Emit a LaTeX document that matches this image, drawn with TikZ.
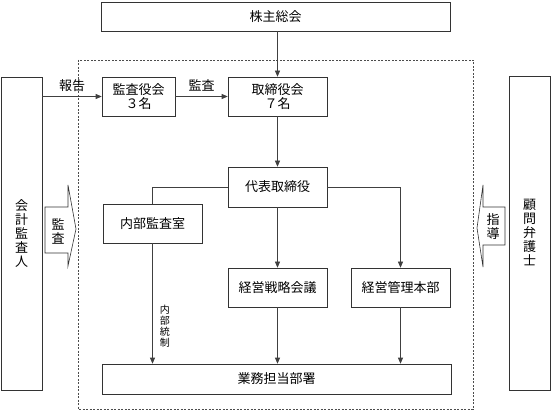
\documentclass[tikz,border=0pt]{standalone}
\usepackage{fontspec}
\setmainfont{Noto Sans CJK JP}
\usetikzlibrary{positioning,arrows.meta,calc}
\tikzstyle{box} = [draw=black!80,line width=0.6pt,inner sep=0pt,align=center,font=\fontsize{13}{14}\selectfont]
\tikzstyle{line} = [draw=black!75,line width=0.6pt]
\tikzstyle{line>} = [line,-{Triangle[length=6pt,width=5pt]}]
\tikzstyle{frame} = [draw=black!70,line width=0.6pt,dash pattern=on 2pt off 1.5pt]
\tikzstyle{fat arrow} = [draw=black!80,line width=0.6pt,fill=white]
\tikzstyle{vert} = [align=center,inner sep=0pt,font=\fontsize{13}{14}\selectfont]
\tikzstyle{small vert} = [align=center,inner sep=0pt,font=\fontsize{10}{11}\selectfont]
\tikzstyle{arrow label} = [inner sep=0pt,font=\fontsize{13}{14}\selectfont]

\begin{document}
\begin{tikzpicture}[x=1pt,y=-1pt]
        \useasboundingbox (0,0) rectangle (551,411);
        % draw dashed frame
        \draw[frame] (78,60) rectangle (473,409);
        
        % draw boxes
        \node[box,minimum width=349,minimum height=29] (kabunushi) at (275.5,16.5) {株主総会};
        \node[box,minimum width=73,minimum height=39] (kansayaku) at (138.5,96.5) {監査役会\\３名};
        \node[box,minimum width=99,minimum height=39] (torishimari) at (277.5,96.5) {取締役会\\７名};
        \node[box,minimum width=99,minimum height=40] (daihyo) at (277.5,187) {代表取締役};
        \node[box,minimum width=99,minimum height=39] (naibu) at (152.5,223.5) {内部監査室};
        \node[box,minimum width=99,minimum height=39] (senryaku) at (277.5,287.5) {経営戦略会議};
        \node[box,minimum width=99,minimum height=39] (kanri) at (400.5,287.5) {経営管理本部};
        \node[box,minimum width=349,minimum height=30] (gyomu) at (276.5,379) {業務担当部署};
        % draw side boxes
        \node[box,minimum width=41,minimum height=313] (kaikei) at (21.5,233.5) {会\\計\\監\\査\\人};
        \node[box,minimum width=41,minimum height=314] (komon) at (529.5,233) {顧\\問\\弁\\護\\士};
        
        % draw fat arrows
        \draw[fat arrow] (45,207) -- (68,207) -- (68,185) -- (76,229) -- (68,266) -- (68,253) -- (45,253) -- cycle;
        \node[vert] (kansa) at (58,231) {監\\査};
        \draw[fat arrow] (505,207) -- (483,207) -- (483,185) -- (477,228) -- (483,267) -- (483,245) -- (505,245) -- cycle;
        \node[vert] (shido) at (493,227) {指\\導};
        
        % draw connectors
        \draw[line>] (kaikei.east |- kansayaku.west) -- node[arrow label,above=5pt] {報告} (kansayaku.west);
        \draw[line>] (kansayaku.east) -- node[arrow label,above=5pt] {監査} (torishimari.west);
        \draw[line>] (torishimari.north |- kabunushi.south) -- (torishimari.north);
        \draw[line>] (torishimari.south) -- (daihyo.north);
        \draw[line] (daihyo.west) -| (naibu.north);
        \draw[line>] (daihyo.east) -| (kanri.north);
        \draw[line>] (daihyo.south) -- (senryaku.north);
        \draw[line>] (naibu.south) -- node[small vert,pos=0.69,right=7pt] {内\\部\\統\\制} (naibu.south |- gyomu.north);
        \draw[line>] (senryaku.south) -- (senryaku.south |- gyomu.north);
        \draw[line>] (kanri.south) -- (kanri.south |- gyomu.north);
\end{tikzpicture}
\end{document}
